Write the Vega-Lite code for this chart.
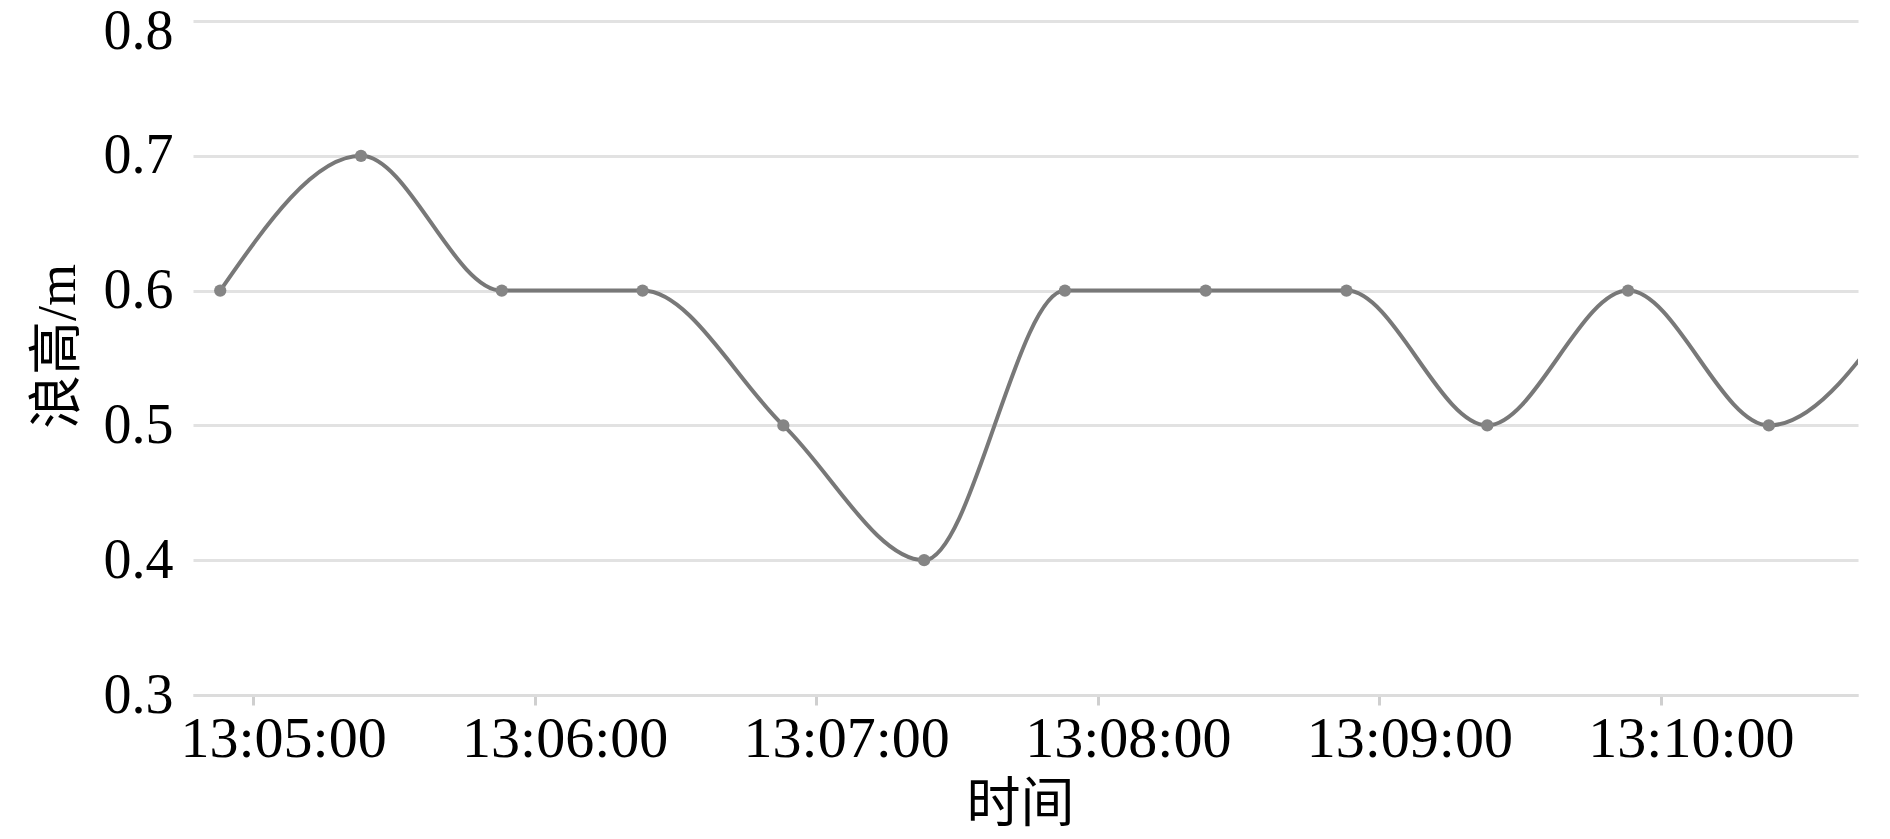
{
  "$schema": "https://vega.github.io/schema/vega-lite/v6.json",
  "width": 1665,
  "height": 674,
  "autosize": "none",
  "padding": {"left": 193, "top": 21, "right": 32, "bottom": 144},
  "background": "white",
  "config": {
    "view": {"stroke": null}
  },
  "data": {
    "values": [
      {"time": "2020-01-01T13:04:53", "h": 0.6},
      {"time": "2020-01-01T13:05:23", "h": 0.7},
      {"time": "2020-01-01T13:05:53", "h": 0.6},
      {"time": "2020-01-01T13:06:23", "h": 0.6},
      {"time": "2020-01-01T13:06:53", "h": 0.5},
      {"time": "2020-01-01T13:07:23", "h": 0.4},
      {"time": "2020-01-01T13:07:53", "h": 0.6},
      {"time": "2020-01-01T13:08:23", "h": 0.6},
      {"time": "2020-01-01T13:08:53", "h": 0.6},
      {"time": "2020-01-01T13:09:23", "h": 0.5},
      {"time": "2020-01-01T13:09:53", "h": 0.6},
      {"time": "2020-01-01T13:10:23", "h": 0.5},
      {"time": "2020-01-01T13:10:53", "h": 0.6}
    ]
  },
  "encoding": {
    "x": {
      "field": "time",
      "type": "temporal",
      "scale": {
        "domain": [
          {"year": 2020, "month": 1, "date": 1, "hours": 13, "minutes": 4, "seconds": 47, "milliseconds": 200},
          {"year": 2020, "month": 1, "date": 1, "hours": 13, "minutes": 10, "seconds": 42}
        ],
        "nice": false
      },
      "axis": {
        "title": "时间",
        "titleFont": "Liberation Serif, Noto Sans CJK SC",
        "titleFontSize": 54,
        "titleFontWeight": "normal",
        "titleColor": "black",
        "titleBaseline": "middle",
        "titleY": 110,
        "titleX": 827,
        "values": [
          {"year": 2020, "month": 1, "date": 1, "hours": 13, "minutes": 5, "seconds": 0},
          {"year": 2020, "month": 1, "date": 1, "hours": 13, "minutes": 6, "seconds": 0},
          {"year": 2020, "month": 1, "date": 1, "hours": 13, "minutes": 7, "seconds": 0},
          {"year": 2020, "month": 1, "date": 1, "hours": 13, "minutes": 8, "seconds": 0},
          {"year": 2020, "month": 1, "date": 1, "hours": 13, "minutes": 9, "seconds": 0},
          {"year": 2020, "month": 1, "date": 1, "hours": 13, "minutes": 10, "seconds": 0}
        ],
        "format": "%H:%M:%S",
        "labelFont": "Liberation Serif",
        "labelFontSize": 58,
        "labelColor": "black",
        "labelLimit": 0,
        "labelOffset": 30,
        "labelPadding": 5,
        "labelFlush": false,
        "labelOverlap": false,
        "grid": false,
        "domainColor": "#dcdcdc",
        "domainWidth": 3,
        "tickColor": "#cfcfcf",
        "tickWidth": 3,
        "tickSize": 10
      }
    },
    "y": {
      "field": "h",
      "type": "quantitative",
      "scale": {"domain": [0.3, 0.8], "nice": false, "zero": false},
      "axis": {
        "title": "浪高/m",
        "titleFont": "Liberation Serif, Noto Sans CJK SC",
        "titleFontSize": 54,
        "titleFontWeight": "normal",
        "titleColor": "black",
        "titleAngle": 270,
        "titleBaseline": "middle",
        "titleAlign": "center",
        "titleX": -135,
        "titleY": 325,
        "values": [0.3, 0.4, 0.5, 0.6, 0.7, 0.8],
        "format": ".1f",
        "labelFont": "Liberation Serif",
        "labelFontSize": 56,
        "labelColor": "black",
        "labelPadding": 20,
        "labelOffset": {"condition": {"test": "datum.value > 0.75", "value": 10}, "value": 0},
        "ticks": false,
        "domain": false,
        "grid": true,
        "gridColor": "#e2e2e2",
        "gridWidth": 3
      }
    }
  },
  "layer": [
    {
      "mark": {"type": "line", "interpolate": "monotone", "color": "#787878", "strokeWidth": 4, "clip": true}
    },
    {
      "mark": {"type": "point", "filled": true, "shape": "circle", "size": 150, "color": "#858585", "opacity": 1, "clip": true}
    }
  ]
}
